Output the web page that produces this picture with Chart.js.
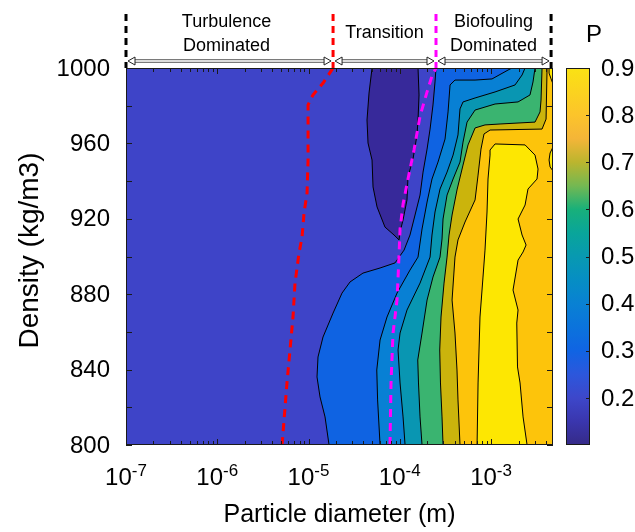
<!DOCTYPE html>
<html><head><meta charset="utf-8">
<script src="https://cdn.jsdelivr.net/npm/chart.js@4.4.1/dist/chart.umd.min.js"></script>
<style>
html,body{margin:0;padding:0;background:#fff;overflow:hidden}
#wrap{position:relative;width:635px;height:532px}
canvas{position:absolute;left:0;top:0}
</style></head><body>
<div id="wrap"><canvas id="main" width="635" height="532"></canvas><canvas id="cbar" width="635" height="532"></canvas></div>
<script>
// ---------- axes ----------
const X_MIN_LOG = -7, X_MAX_LOG = -2.321;       // log10 particle diameter (m)
const Y_MIN = 800, Y_MAX = 1000;                 // density (kg/m3)
const xTickExponents = [-7, -6, -5, -4, -3];
const yTickLabels = [800, 840, 880, 920, 960, 1000];
const yTickMarks = [800, 820, 840, 860, 880, 900, 920, 940, 960, 980, 1000];
const cbarTicks = [0.2, 0.3, 0.4, 0.5, 0.6, 0.7, 0.8, 0.9];
const CBAR_MIN = 0.1, CBAR_MAX = 0.9;

// ---------- regime annotation ----------
const regimeBounds = [-7, -4.731, -3.603, -2.342];   // log10 diameter
const regimeLabels = [['Turbulence', 'Dominated'], ['Transition'], ['Biofouling', 'Dominated']];
const regimeLineColors = ['#000000', '#ff0000', '#ff00ff', '#000000'];

// ---------- contour lines: [log10 diameter, density] ----------
const islandP15 = [[-4.304,1000],[-3.800,1000],[-3.789,985.7],[-3.800,972.4],[-3.811,964.5],[-3.855,951.7],[-3.910,942.2],[-3.921,930.0],[-3.964,919.4],[-3.997,913.0],[-4.008,908.8],[-4.063,911.4],[-4.162,915.6],[-4.249,926.3],[-4.293,936.9],[-4.304,951.2],[-4.348,960.2],[-4.359,972.4],[-4.337,986.7]];
const contourP25 = [[-3.603,1000],[-3.614,992.6],[-3.636,980.4],[-3.668,967.6],[-3.701,957.0],[-3.745,944.8],[-3.778,932.6],[-3.833,922.0],[-3.888,911.4],[-3.953,903.4],[-4.052,896.6],[-4.216,893.9],[-4.403,891.2],[-4.545,886.5],[-4.633,880.6],[-4.731,870.0],[-4.841,857.3],[-4.896,846.7],[-4.907,836.1],[-4.874,825.5],[-4.819,814.9],[-4.775,800]];
const contourP35 = [[-2.770,1000],[-2.814,998.9],[-2.989,994.2],[-3.175,993.6],[-3.395,993.6],[-3.449,991.0],[-3.471,976.7],[-3.504,962.3],[-3.581,950.1],[-3.647,941.1],[-3.701,928.9],[-3.756,914.6],[-3.800,899.7],[-3.888,892.8],[-4.030,880.6],[-4.140,867.9],[-4.216,855.7],[-4.252,839.8],[-4.243,823.9],[-4.216,800]];
const contourP45 = [[-2.627,1000],[-2.660,996.3],[-2.737,991.0],[-2.956,987.3],[-3.175,984.1],[-3.307,982.0],[-3.340,978.3],[-3.362,964.5],[-3.416,953.8],[-3.482,944.8],[-3.559,935.8],[-3.614,923.6],[-3.647,911.4],[-3.668,899.7],[-3.778,885.9],[-3.921,871.6],[-3.997,859.4],[-4.019,850.4],[-3.997,832.9],[-3.964,814.9],[-3.942,800]];
const contourP55 = [[-2.518,1000],[-2.540,992.6],[-2.573,985.7],[-2.704,982.0],[-2.956,980.9],[-3.175,977.7],[-3.263,971.3],[-3.307,960.7],[-3.340,950.1],[-3.416,941.1],[-3.482,932.6],[-3.526,919.9],[-3.537,909.3],[-3.559,899.7],[-3.636,889.1],[-3.701,876.9],[-3.756,859.4],[-3.803,845.1],[-3.795,832.9],[-3.778,814.9],[-3.756,800]];
const contourP65 = [[-2.441,1000],[-2.452,983.0],[-2.463,976.7],[-2.518,971.3],[-2.901,970.3],[-3.066,969.8],[-3.175,968.2],[-3.252,959.2],[-3.307,948.5],[-3.373,935.3],[-3.427,922.0],[-3.460,911.4],[-3.482,899.7],[-3.515,885.9],[-3.548,867.9],[-3.562,850.4],[-3.554,832.9],[-3.537,814.9],[-3.526,800]];
const contourP75 = [[-2.386,1000],[-2.397,972.9],[-2.441,967.6],[-3.011,967.1],[-3.077,965.0],[-3.110,957.0],[-3.142,943.2],[-3.175,930.0],[-3.285,918.3],[-3.362,908.8],[-3.395,899.7],[-3.427,876.9],[-3.395,859.4],[-3.373,839.8],[-3.362,823.9],[-3.340,800]];
const coreP85 = [[-3.011,956.5],[-2.956,959.7],[-2.627,959.2],[-2.518,953.8],[-2.485,946.4],[-2.496,941.1],[-2.595,935.8],[-2.627,927.3],[-2.704,919.9],[-2.660,911.4],[-2.616,906.1],[-2.649,902.4],[-2.704,898.1],[-2.759,882.2],[-2.704,871.6],[-2.718,864.7],[-2.710,841.4],[-2.682,832.9],[-2.649,814.9],[-2.605,800],[-3.153,800],[-3.142,832.9],[-3.121,867.9],[-3.088,889.1],[-3.066,903.4],[-3.044,923.6],[-3.033,941.1],[-3.011,953.8]];
const edgeP85a = [[-2.364,1000],[-2.321,1000],[-2.321,991.5],[-2.342,994.2],[-2.364,997.3]];
const edgeP85b = [[-2.321,958.1],[-2.353,954.9],[-2.364,951.2],[-2.353,947.5],[-2.321,945.4]];

// ---------- regime boundary lines ----------
const redBoundary = [[-5.290,800],[-5.236,832.9],[-5.203,850.4],[-5.170,867.9],[-5.148,885.9],[-5.104,901.9],[-5.071,910.3],[-5.049,923.1],[-5.016,933.7],[-5.005,951.2],[-5.005,968.7],[-5.005,980.4],[-4.951,985.7],[-4.841,992.0],[-4.731,1000]];
const magentaBoundary = [[-4.107,800],[-4.096,832.9],[-4.074,859.4],[-4.030,876.9],[-4.008,900.8],[-3.997,914.6],[-3.964,927.8],[-3.910,941.1],[-3.844,956.5],[-3.778,974.5],[-3.701,987.3],[-3.647,995.8],[-3.603,1000]];

// ---------- colours ----------
const colBackground = '#3e44c8';
const colIsland = '#37299a';
const bandColors = ['#0f63e2', '#0880d4', '#0996b2', '#3ab470', '#cbb40c', '#fdc40b', '#fde702'];
const cbarStops = [[0.1,'#352a87'],[0.15,'#3a36ae'],[0.2,'#3d47ca'],[0.25,'#2c57dc'],[0.3,'#1064e3'],[0.35,'#0b73dc'],[0.4,'#0981d3'],[0.45,'#068ec4'],[0.5,'#0899b1'],[0.55,'#09a59a'],[0.6,'#18b07a'],[0.65,'#74b852'],[0.7,'#bbb52e'],[0.75,'#f4b538'],[0.8,'#fcc42b'],[0.85,'#fbd31f'],[0.9,'#fae214']];

// ---------- build datasets ----------
const toPts = arr => arr.map(([lx, d]) => ({x: Math.pow(10, lx), y: d}));
const closeRing = pts => pts.concat([pts[0]]);
const rightRegion = arr => closeRing(toPts(arr).concat([{x: Math.pow(10, X_MAX_LOG), y: Y_MIN}, {x: Math.pow(10, X_MAX_LOG), y: Y_MAX}]));
const fullRect = closeRing(toPts([[X_MIN_LOG, Y_MIN], [X_MIN_LOG, Y_MAX], [X_MAX_LOG, Y_MAX], [X_MAX_LOG, Y_MIN]]));

const layers = [
  {data: fullRect, bg: colBackground, bw: 0},
  {data: closeRing(toPts(islandP15)), bg: colIsland, bw: 1},
  {data: rightRegion(contourP25), bg: bandColors[0], bw: 1},
  {data: rightRegion(contourP35), bg: bandColors[1], bw: 1},
  {data: rightRegion(contourP45), bg: bandColors[2], bw: 1},
  {data: rightRegion(contourP55), bg: bandColors[3], bw: 1},
  {data: rightRegion(contourP65), bg: bandColors[4], bw: 1},
  {data: rightRegion(contourP75), bg: bandColors[5], bw: 1},
  {data: closeRing(toPts(coreP85)), bg: bandColors[6], bw: 1},
  {data: closeRing(toPts(edgeP85a)), bg: bandColors[6], bw: 1},
  {data: closeRing(toPts(edgeP85b)), bg: bandColors[6], bw: 1}
];
const N = layers.length + 2;
const datasets = layers.map((l, i) => ({
  data: l.data, backgroundColor: l.bg, borderColor: '#000', borderWidth: l.bw,
  fill: 'shape', pointRadius: 0, tension: 0, order: N - i
}));
datasets.push({data: toPts(redBoundary), borderColor: '#ff0000', borderWidth: 3, borderDash: [8, 6], fill: false, pointRadius: 0, tension: 0, order: 1});
datasets.push({data: toPts(magentaBoundary), borderColor: '#ff00ff', borderWidth: 3, borderDash: [8, 6], fill: false, pointRadius: 0, tension: 0, order: 0});

const FONT = '"Liberation Sans", Arial, Helvetica, sans-serif';

const mainDecor = {
  id: 'mainDecor',
  afterDraw(chart) {
    const {ctx, chartArea: a} = chart;
    const xs = chart.scales.x, ys = chart.scales.y;
    ctx.save();
    // ticks
    ctx.strokeStyle = '#1a1a1a'; ctx.lineWidth = 1; ctx.setLineDash([]);
    ctx.beginPath();
    for (const v of yTickMarks) {
      const py = Math.round(ys.getPixelForValue(v)) + 0.5;
      ctx.moveTo(a.left, py); ctx.lineTo(a.left + 6, py);
      ctx.moveTo(a.right, py); ctx.lineTo(a.right - 6, py);
    }
    for (let e = -7; e <= -3; e++) {
      for (let m = 1; m <= 9; m++) {
        const v = m * Math.pow(10, e);
        if (v > xs.max) continue;
        const px = Math.round(xs.getPixelForValue(v)) + 0.5;
        const len = m === 1 ? 6 : 4;
        ctx.moveTo(px, a.bottom); ctx.lineTo(px, a.bottom - len);
        ctx.moveTo(px, a.top); ctx.lineTo(px, a.top + len);
      }
    }
    ctx.stroke();
    ctx.strokeRect(a.left + 0.5, a.top + 0.5, a.right - a.left - 1, a.bottom - a.top - 1);

    ctx.fillStyle = '#000';
    // y tick labels
    ctx.font = '24px ' + FONT; ctx.textAlign = 'right'; ctx.textBaseline = 'middle';
    for (const v of yTickLabels) ctx.fillText(String(v), a.left - 16, ys.getPixelForValue(v) + 1);
    // x tick labels 10^e
    ctx.textBaseline = 'alphabetic';
    for (const e of xTickExponents) {
      const px = xs.getPixelForValue(Math.pow(10, e));
      ctx.font = '24px ' + FONT; const wb = ctx.measureText('10').width;
      ctx.font = '17px ' + FONT; const we = ctx.measureText(String(e)).width;
      const x0 = px - (wb + we) / 2;
      ctx.textAlign = 'left';
      ctx.font = '24px ' + FONT; ctx.fillText('10', x0, a.bottom + 40);
      ctx.font = '17px ' + FONT; ctx.fillText(String(e), x0 + wb, a.bottom + 31);
    }
    // axis titles
    ctx.font = '25px ' + FONT; ctx.textAlign = 'center';
    ctx.fillText('Particle diameter (m)', (a.left + a.right) / 2, a.bottom + 77);
    ctx.save();
    ctx.translate(30, (a.top + a.bottom) / 2 - 6);
    ctx.rotate(-Math.PI / 2);
    ctx.textBaseline = 'middle';
    ctx.font = '28px ' + FONT;
    ctx.fillText('Density (kg/m3)', 0, 0);
    ctx.restore();

    // regime annotation above the plot
    const bx = regimeBounds.map(b => xs.getPixelForValue(Math.pow(10, b)));
    const ay = a.top - 7;
    for (let i = 0; i < bx.length - 1; i++) {
      const x0 = bx[i] + 2, x1 = bx[i + 1] - 2;
      ctx.fillStyle = '#dcdcdc'; ctx.strokeStyle = '#7a7a7a'; ctx.lineWidth = 1;
      ctx.fillRect(x0 + 6, ay - 1.5, x1 - x0 - 12, 3);
      ctx.strokeRect(x0 + 6, ay - 1.5, x1 - x0 - 12, 3);
      ctx.fillStyle = '#fff'; ctx.strokeStyle = '#222';
      for (const [tip, dir] of [[x0, 1], [x1, -1]]) {
        ctx.beginPath();
        ctx.moveTo(tip, ay); ctx.lineTo(tip + dir * 7, ay - 4); ctx.lineTo(tip + dir * 7, ay + 4); ctx.closePath();
        ctx.fill(); ctx.stroke();
      }
    }
    ctx.lineWidth = 3; ctx.setLineDash([7, 5]);
    bx.forEach((x, i) => {
      ctx.strokeStyle = regimeLineColors[i];
      ctx.beginPath(); ctx.moveTo(x, a.top - 54); ctx.lineTo(x, a.top); ctx.stroke();
    });
    ctx.setLineDash([]);
    ctx.fillStyle = '#000'; ctx.font = '18px ' + FONT; ctx.textAlign = 'center'; ctx.textBaseline = 'alphabetic';
    regimeLabels.forEach((lines, i) => {
      const cx = (bx[i] + bx[i + 1]) / 2 - (i === 0 ? 3 : 0);
      if (lines.length === 2) {
        ctx.fillText(lines[0], cx, a.top - 41);
        ctx.fillText(lines[1], cx, a.top - 17);
      } else {
        ctx.fillText(lines[0], cx, a.top - 30);
      }
    });
    ctx.restore();
  }
};

new Chart(document.getElementById('main'), {
  type: 'line',
  data: {datasets},
  options: {
    responsive: false, animation: false, devicePixelRatio: 1,
    layout: {padding: {left: 126, top: 68, right: 82, bottom: 87}},
    scales: {
      x: {type: 'logarithmic', display: false, min: Math.pow(10, X_MIN_LOG), max: Math.pow(10, X_MAX_LOG)},
      y: {type: 'linear', display: false, min: Y_MIN, max: Y_MAX}
    },
    plugins: {legend: {display: false}, tooltip: {enabled: false}},
    elements: {line: {capBezierPoints: false, borderJoinStyle: 'round'}}
  },
  plugins: [mainDecor]
});

// ---------- colorbar ----------
const cbarDecor = {
  id: 'cbarDecor',
  afterDraw(chart) {
    const {ctx, chartArea: a} = chart;
    const ys = chart.scales.y;
    ctx.save();
    ctx.strokeStyle = '#1a1a1a'; ctx.lineWidth = 1;
    ctx.beginPath();
    for (const v of cbarTicks) {
      const py = Math.round(ys.getPixelForValue(v)) + 0.5;
      ctx.moveTo(a.right, py); ctx.lineTo(a.right - 4, py);
    }
    ctx.stroke();
    ctx.strokeRect(a.left + 0.5, a.top + 0.5, a.right - a.left - 1, a.bottom - a.top - 1);
    ctx.fillStyle = '#000'; ctx.font = '24px ' + FONT; ctx.textAlign = 'left'; ctx.textBaseline = 'middle';
    for (const v of cbarTicks) ctx.fillText(v.toFixed(1), a.right + 11, ys.getPixelForValue(v) + 1);
    ctx.textAlign = 'left'; ctx.textBaseline = 'alphabetic';
    ctx.fillText('P', a.right - 4, a.top - 26);
    ctx.restore();
  }
};

new Chart(document.getElementById('cbar'), {
  type: 'bar',
  data: {labels: ['P'], datasets: [{
    data: [[CBAR_MIN, CBAR_MAX]],
    backgroundColor: (c) => {
      const ch = c.chart, a = ch.chartArea;
      if (!a) return '#888';
      const g = ch.ctx.createLinearGradient(0, a.bottom, 0, a.top);
      for (const [v, col] of cbarStops) g.addColorStop((v - CBAR_MIN) / (CBAR_MAX - CBAR_MIN), col);
      return g;
    },
    borderWidth: 0, barPercentage: 1, categoryPercentage: 1, borderSkipped: false
  }]},
  options: {
    responsive: false, animation: false, devicePixelRatio: 1,
    layout: {padding: {left: 566, top: 68, right: 45, bottom: 87}},
    scales: {x: {display: false}, y: {display: false, min: CBAR_MIN, max: CBAR_MAX}},
    plugins: {legend: {display: false}, tooltip: {enabled: false}}
  },
  plugins: [cbarDecor]
});
</script>
</body></html>
